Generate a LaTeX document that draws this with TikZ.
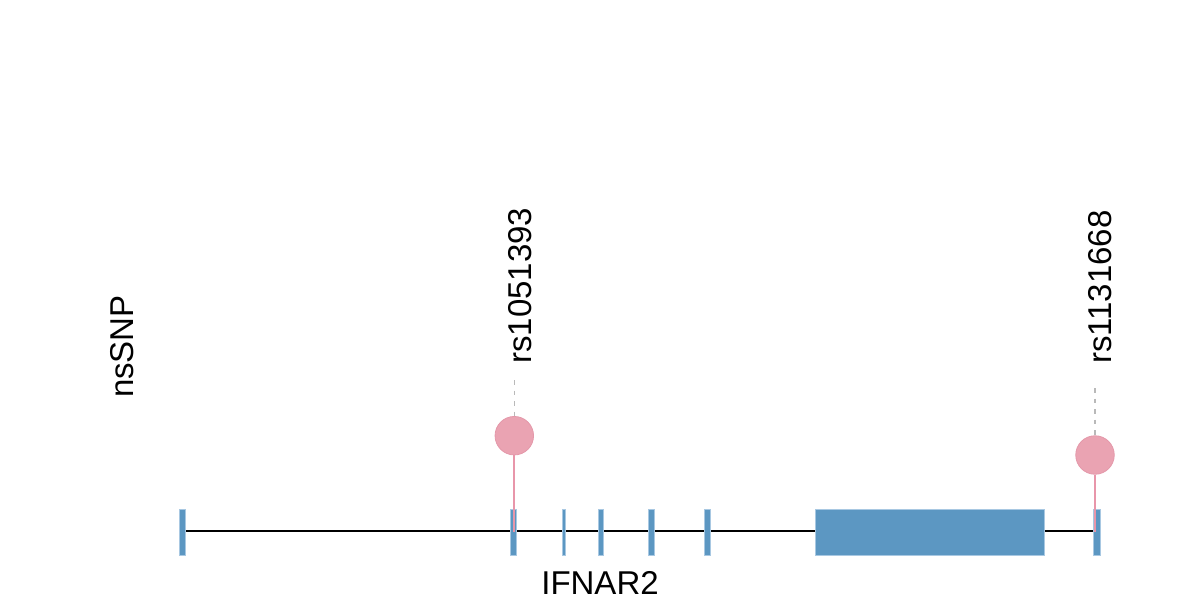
\documentclass[tikz,border=0pt]{standalone}
\usepackage{fontspec}
\setmainfont{Liberation Sans}
\usetikzlibrary{backgrounds}
\definecolor{exonblue}{RGB}{92,151,194}
\definecolor{exonedge}{RGB}{168,200,226}
\definecolor{snppink}{RGB}{234,163,178}
\definecolor{snpedge}{RGB}{228,152,170}
\definecolor{stempink}{RGB}{232,150,170}
\definecolor{dashgray}{RGB}{185,185,185}
\begin{document}
\begin{tikzpicture}[x=1pt,y=-1pt,
  exon/.style={draw=exonedge, line width=0.6pt, fill=exonblue, inner sep=0pt, minimum height=46pt},
  snp/.style={circle, draw=snpedge, line width=0.8pt, fill=snppink, inner sep=0pt, minimum size=38.5pt},
  stem/.style={draw=stempink, line width=2pt},
  guide/.style={draw=dashgray, line width=1.6pt, dash pattern=on 4.5pt off 6pt},
  backbone/.style={draw=black, line width=1.6pt},
  lbl/.style={font=\fontsize{33}{36}\selectfont, inner sep=0pt}]
\useasboundingbox (0,0) rectangle (1200,600);

% exons
\node[exon, minimum width=6pt]   (e1) at (182,532) {};
\node[exon, minimum width=6pt]   (e2) at (513,532) {};
\node[exon, minimum width=3pt]   (e3) at (563.5,532) {};
\node[exon, minimum width=5pt]   (e4) at (600.5,532) {};
\node[exon, minimum width=6pt]   (e5) at (651,532) {};
\node[exon, minimum width=6pt]   (e6) at (707,532) {};
\node[exon, minimum width=229pt] (e7) at (929.5,532) {};
\node[exon, minimum width=7.5pt] (e8) at (1097,532) {};

% backbone behind exons
\begin{scope}[on background layer]
  \coordinate (bend) at (1094,531);
  \draw[backbone] (e1.center |- bend) -- (bend);
\end{scope}

% SNP markers
\coordinate (g1) at (514.3,380);
\coordinate (g2) at (1095,388);
\coordinate (b1) at (514.3,532);
\coordinate (b2) at (1095,532);
\node[snp] (snp1) at (514.3,435.7) {};
\node[snp] (snp2) at (1095,455) {};
\draw[guide] (g1) -- (snp1.north);
\draw[guide] (g2) -- (snp2.north);
\draw[stem] (snp1.south) -- (b1);
\draw[stem] (snp2.south) -- (b2);

% labels
\node[lbl, rotate=90, anchor=base west] (l1) at (531.5,364) {rs1051393};
\node[lbl, rotate=90, anchor=base west] (l2) at (1111.5,364) {rs1131668};
\node[lbl, anchor=base] (gene) at (600,594) {IFNAR2};
\node[lbl, rotate=90, anchor=base] (track) at (133,346.5) {nsSNP};
\end{tikzpicture}
\end{document}
